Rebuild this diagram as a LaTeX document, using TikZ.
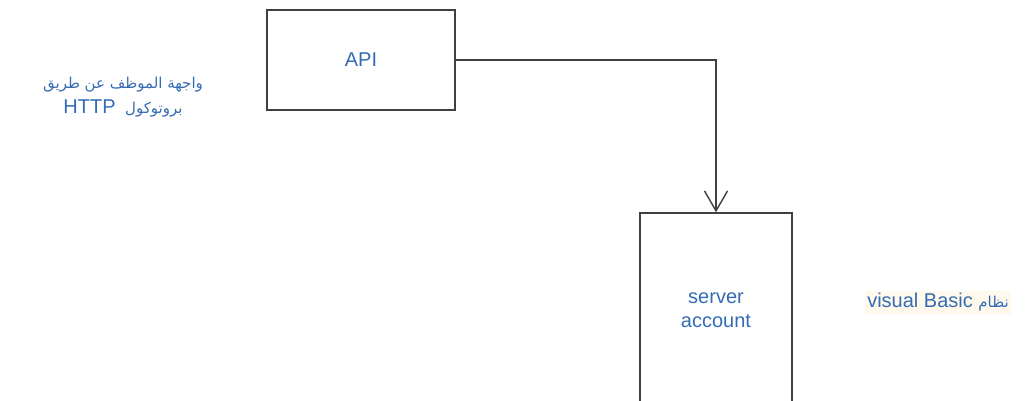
\documentclass[tikz,border=0pt]{standalone}
\usepackage{fontspec}
\setmainfont{Liberation Sans}
\newfontfamily\latinfont{Liberation Sans}
\newfontfamily\arabicfont[Script=Arabic]{DejaVu Sans}
\TeXXeTstate=1
\usetikzlibrary{arrows.meta}
\definecolor{linegray}{RGB}{64,64,64}
\definecolor{textblue}{RGB}{52,108,180}
\definecolor{notecream}{RGB}{255,248,236}
\tikzset{
  box/.style={draw=linegray,line width=1.4pt,text=textblue,align=center,
    font=\fontsize{20}{24}\selectfont},
  note/.style={text=textblue,align=center,inner sep=2pt}
}
\begin{document}
\begin{tikzpicture}[x=1pt,y=-1pt]
    \useasboundingbox (0,0) rectangle (1027,401);
    \node[box,minimum width=188pt,minimum height=100pt] (api) at (361,60) {API};
    \node[box,minimum width=152pt,minimum height=194pt] (server) at (716,310) {server\\account};
    \draw[linegray,line width=1.4pt,-{Straight Barb[length=20pt,width=23pt,line width=1.4pt]}]
        (api.east) -| (server.north);
    \node[note,font=\fontsize{15}{25}\selectfont] (http) at (123,97)
        {\arabicfont\beginR واجهة الموظف عن طريق\endR\\
         \arabicfont\beginR بروتوكول \ {\latinfont\fontsize{20}{25}\selectfont\beginL HTTP\endL}\endR};
    \node[note,fill=notecream,font=\fontsize{20}{23}\selectfont] (vb) at (938,302.5)
        {\beginR{\arabicfont\fontsize{15}{23}\selectfont نظام} \beginL visual Basic\endL\endR};
\end{tikzpicture}
\end{document}
